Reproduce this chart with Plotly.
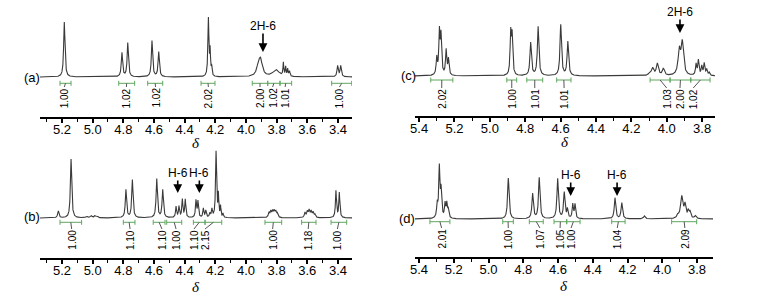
import numpy as np
import plotly.graph_objects as go

W, H = 764, 297

# ---------------- data ----------------
# Panel (a)
a_peak_ppm = [5.185, 4.809, 4.771, 4.613, 4.569, 4.245, 4.234, 4.224, 3.920, 3.905,
              3.804, 3.756, 3.741, 3.728, 3.716, 3.402, 3.382]
a_peak_height = [55, 24, 34, 36, 25, 58, 24, 9, 8, 16, 7, 13, 9, 7, 5, 11, 11]
a_peak_hwhm = [0.005, 0.005, 0.005, 0.005, 0.005, 0.004, 0.003, 0.003, 0.012, 0.014,
               0.025, 0.003, 0.003, 0.003, 0.004, 0.005, 0.005]
a_int_start = [5.213, 4.830, 4.641, 4.293, 3.959, 3.858, 3.778, 3.441]
a_int_end = [5.141, 4.726, 4.543, 4.202, 3.858, 3.778, 3.702, 3.310]
a_int_value = ["1.00", "1.02", "1.02", "2.02", "2.00", "1.02", "1.01", "1.00"]
a_int_label = [5.185, 4.780, 4.590, 4.245, 3.908, 3.826, 3.745, 3.390]
a_arrow_ppm = [3.889]
a_arrow_text = ["2H-6"]

# Panel (b)
b_peak_ppm = [5.224, 5.141, 5.040, 5.010, 4.985, 4.970, 4.783, 4.741, 4.582, 4.543,
              4.456, 4.437, 4.415, 4.396, 4.326, 4.313, 4.278, 4.262, 4.235, 4.222,
              4.195, 4.180, 4.166, 4.150,
              3.850, 3.838, 3.826, 3.815, 3.805, 3.795,
              3.615, 3.600, 3.588, 3.575, 3.562, 3.550,
              3.413, 3.391]
b_peak_height = [7, 59, 1.5, 2, 2, 1.5, 28, 38, 39, 28,
                 11, 11, 18, 18, 17, 16, 9, 7, 4, 8,
                 66, 22, 11, 4,
                 5, 6, 6, 6, 5, 4,
                 5, 6, 7, 6, 5, 3,
                 27, 25]
b_peak_hwhm = [0.005, 0.005, 0.006, 0.006, 0.006, 0.006, 0.005, 0.005, 0.005, 0.005,
               0.004, 0.004, 0.004, 0.004, 0.004, 0.004, 0.004, 0.004, 0.004, 0.004,
               0.004, 0.003, 0.003, 0.003,
               0.005, 0.005, 0.005, 0.005, 0.005, 0.005,
               0.005, 0.005, 0.005, 0.005, 0.005, 0.005,
               0.004, 0.004]
b_int_start = [5.213, 4.800, 4.605, 4.517, 4.343, 4.267, 3.876, 3.637, 3.445]
b_int_end = [5.072, 4.724, 4.528, 4.419, 4.267, 4.158, 3.767, 3.543, 3.343]
b_int_value = ["1.00", "1.10", "1.10", "1.00", "1.10", "2.15", "1.00", "1.18", "1.00"]
b_int_label = [5.137, 4.756, 4.548, 4.456, 4.339, 4.267, 3.826, 3.594, 3.404]
b_arrow_ppm = [4.445, 4.304]
b_arrow_text = ["H-6", "H-6"]

# Panel (c)
c_peak_ppm = [5.300, 5.285, 5.276, 5.247, 5.234, 4.882, 4.874, 4.769, 4.727, 4.599, 4.559,
              4.095, 4.079, 4.053, 4.019, 3.929, 3.912,
              3.834, 3.821, 3.802, 3.788, 3.774, 3.760]
c_peak_height = [17, 42, 38, 25, 16, 41, 38, 33, 49, 51, 34,
                 3, 7, 12, 7, 24, 32,
                 11, 15, 9, 12, 6, 3]
c_peak_hwhm = [0.004, 0.004, 0.004, 0.004, 0.004, 0.004, 0.004, 0.005, 0.005, 0.005, 0.005,
               0.008, 0.007, 0.007, 0.007, 0.008, 0.008,
               0.004, 0.004, 0.004, 0.004, 0.004, 0.004]
c_int_start = [5.334, 4.904, 4.791, 4.622, 4.094, 3.981, 3.864]
c_int_end = [5.209, 4.848, 4.701, 4.541, 3.981, 3.864, 3.755]
c_int_value = ["2.02", "1.00", "1.01", "1.01", "1.03", "2.00", "1.02"]
c_int_label = [5.272, 4.876, 4.746, 4.580, 4.000, 3.925, 3.850]
c_arrow_ppm = [3.925]
c_arrow_text = ["2H-6"]

# Panel (d)
d_peak_ppm = [5.295, 5.283, 5.273, 5.250, 5.240, 5.231, 4.886, 4.746, 4.708,
              4.602, 4.564, 4.546, 4.515, 4.502, 4.272, 4.233, 4.103,
              3.910, 3.888, 3.869, 3.850, 3.840, 3.810]
d_peak_height = [13, 50, 27, 14, 14, 8, 41, 25, 41,
                 40, 26, 9, 14, 14, 21, 16, 3,
                 3, 22, 13, 7, 6, 3]
d_peak_hwhm = [0.004, 0.004, 0.004, 0.004, 0.004, 0.004, 0.005, 0.005, 0.005,
               0.005, 0.005, 0.004, 0.004, 0.004, 0.005, 0.005, 0.006,
               0.006, 0.008, 0.006, 0.005, 0.005, 0.006]
d_int_start = [5.337, 4.918, 4.765, 4.623, 4.550, 4.291, 3.946]
d_int_end = [5.222, 4.857, 4.685, 4.550, 4.473, 4.214, 3.802]
d_int_value = ["2.01", "1.00", "1.07", "1.05", "1.00", "1.04", "2.09"]
d_int_label = [5.270, 4.886, 4.704, 4.588, 4.525, 4.259, 3.870]
d_arrow_ppm = [4.527, 4.260]
d_arrow_text = ["H-6", "H-6"]

# ---------------- layout (pixel geometry of each panel) ----------------
panels = [
    dict(tag="(a)", ppm=a_peak_ppm, h=a_peak_height, w=a_peak_hwhm,
         s=a_int_start, e=a_int_end, v=a_int_value, lab=a_int_label,
         arr=a_arrow_ppm, arrt=a_arrow_text,
         x0=40, x1=352, axis_y=117, base_y=77, top_y=4, xr=(5.3435, 3.3083),
         br_y=-6.3, lab_y=-21, arr_head=25, arr_ay=-26, tag_xy=(32, 77), delta_y=143),
    dict(tag="(b)", ppm=b_peak_ppm, h=b_peak_height, w=b_peak_hwhm,
         s=b_int_start, e=b_int_end, v=b_int_value, lab=b_int_label,
         arr=b_arrow_ppm, arrt=b_arrow_text,
         x0=40, x1=352, axis_y=258, base_y=218, top_y=140, xr=(5.3435, 3.3083),
         br_y=-4.3, lab_y=-22, arr_head=25, arr_ay=-20, tag_xy=(32, 216), delta_y=287),
    dict(tag="(c)", ppm=c_peak_ppm, h=c_peak_height, w=c_peak_hwhm,
         s=c_int_start, e=c_int_end, v=c_int_value, lab=c_int_label,
         arr=c_arrow_ppm, arrt=c_arrow_text,
         x0=415, x1=715, axis_y=116, base_y=76, top_y=4, xr=(5.423, 3.727),
         br_y=-4, lab_y=-23, arr_head=43, arr_ay=-21, tag_xy=(408, 75), delta_y=142),
    dict(tag="(d)", ppm=d_peak_ppm, h=d_peak_height, w=d_peak_hwhm,
         s=d_int_start, e=d_int_end, v=d_int_value, lab=d_int_label,
         arr=d_arrow_ppm, arrt=d_arrow_text,
         x0=415, x1=713, axis_y=257, base_y=219, top_y=140, xr=(5.423, 3.708),
         br_y=-2.7, lab_y=-20, arr_head=23, arr_ay=-21, tag_xy=(407, 218), delta_y=286),
]

SANS = "Liberation Sans, Arial, sans-serif"
GREEN = "#5fa65f"
LINE = "#3a3a3a"
LABEL_GAP = 2.5   # extra pixels between axis line and tick-label axis

fig = go.Figure()
shapes, annotations = [], []
layout_axes = {}
n = len(panels)

for i, P in enumerate(panels, start=1):
    xn = "x" if i == 1 else f"x{i}"
    yn = "y" if i == 1 else f"y{i}"
    xkey = "xaxis" if i == 1 else f"xaxis{i}"
    ykey = "yaxis" if i == 1 else f"yaxis{i}"
    ln = f"x{i + n}"          # axis that carries only the tick labels
    lkey = f"xaxis{i + n}"

    xs = np.linspace(P["xr"][0], P["xr"][1], 6000)
    ys = np.zeros_like(xs)
    for p, hh, ww in zip(P["ppm"], P["h"], P["w"]):
        ys += hh * ww ** 2 / ((xs - p) ** 2 + ww ** 2)
    fig.add_trace(go.Scatter(x=xs, y=ys, mode="lines", xaxis=xn, yaxis=yn,
                             line=dict(color=LINE, width=1.1), hoverinfo="skip",
                             showlegend=False))
    # invisible companion trace so the label axis is drawn
    fig.add_trace(go.Scatter(x=list(P["xr"]), y=[0, 0], mode="lines", xaxis=ln, yaxis=yn,
                             line=dict(color="rgba(0,0,0,0)", width=0), hoverinfo="skip",
                             showlegend=False))

    common = dict(domain=[P["x0"] / W, P["x1"] / W], range=list(P["xr"]),
                  tick0=0, dtick=0.2, showgrid=False, zeroline=False, automargin=False)
    layout_axes[xkey] = dict(
        anchor=yn, showline=True, linecolor="black", linewidth=2, ticks="outside",
        ticklen=4, tickwidth=1.6, tickcolor="black", showticklabels=False,
        minor=dict(dtick=0.1, ticks="outside", ticklen=3, tickwidth=1.4, tickcolor="black"),
        **common)
    layout_axes[lkey] = dict(
        overlaying=xn, anchor="free", position=1 - (P["axis_y"] + LABEL_GAP) / H,
        showline=False, ticks="", showticklabels=True, tickformat=".1f",
        tickfont=dict(family=SANS, size=13, color="black"), **common)
    layout_axes[ykey] = dict(
        domain=[1 - P["axis_y"] / H, 1 - P["top_y"] / H],
        range=[-(P["axis_y"] - P["base_y"]), P["base_y"] - P["top_y"]],
        visible=False, anchor=xn, automargin=False)

    # integration brackets
    yb = P["br_y"]
    for s, e, v, lab in zip(P["s"], P["e"], P["v"], P["lab"]):
        c = (s + e) / 2
        shapes.append(dict(type="line", xref=xn, yref=yn, x0=s, x1=e, y0=yb, y1=yb,
                           line=dict(color=GREEN, width=1)))
        for xe in (s, e):
            shapes.append(dict(type="line", xref=xn, yref=yn, x0=xe, x1=xe,
                               y0=yb - 2.5, y1=yb + 2.5, line=dict(color=GREEN, width=1)))
        shapes.append(dict(type="line", xref=xn, yref=yn, x0=c, x1=lab,
                           y0=yb, y1=P["lab_y"] + 11,
                           line=dict(color="#555555", width=1)))
        annotations.append(dict(x=lab, y=P["lab_y"], xref=xn, yref=yn, text=v,
                                textangle=-90, showarrow=False, xanchor="center",
                                yanchor="middle",
                                font=dict(family=SANS, size=10, color="black")))

    # arrows
    for xa, t in zip(P["arr"], P["arrt"]):
        annotations.append(dict(x=xa, y=P["arr_head"], xref=xn, yref=yn, text=t,
                                showarrow=True, ax=0, ay=P["arr_ay"], arrowhead=2,
                                arrowsize=1.1, arrowwidth=1.6, arrowcolor="black",
                                borderpad=0,
                                font=dict(family=SANS, size=12, color="black")))

    # panel tag and delta title
    annotations.append(dict(x=P["tag_xy"][0] / W, y=1 - P["tag_xy"][1] / H,
                            xref="paper", yref="paper", text=P["tag"], showarrow=False,
                            xanchor="center", yanchor="middle",
                            font=dict(family=SANS, size=13, color="black")))
    annotations.append(dict(x=(P["x0"] + P["x1"]) / 2 / W, y=1 - P["delta_y"] / H,
                            xref="paper", yref="paper", text="<i>δ</i>", showarrow=False,
                            xanchor="center", yanchor="middle",
                            font=dict(family="Liberation Serif, DejaVu Serif, serif",
                                      size=15, color="black")))

fig.update_layout(width=W, height=H, autosize=False,
                  margin=dict(l=0, r=0, t=0, b=0, pad=0),
                  paper_bgcolor="white", plot_bgcolor="rgba(0,0,0,0)",
                  shapes=shapes, annotations=annotations, showlegend=False,
                  **layout_axes)

fig.write_html("out.html", config={"displayModeBar": False},
               post_script="document.body.style.margin='0';document.body.style.padding='0';")
